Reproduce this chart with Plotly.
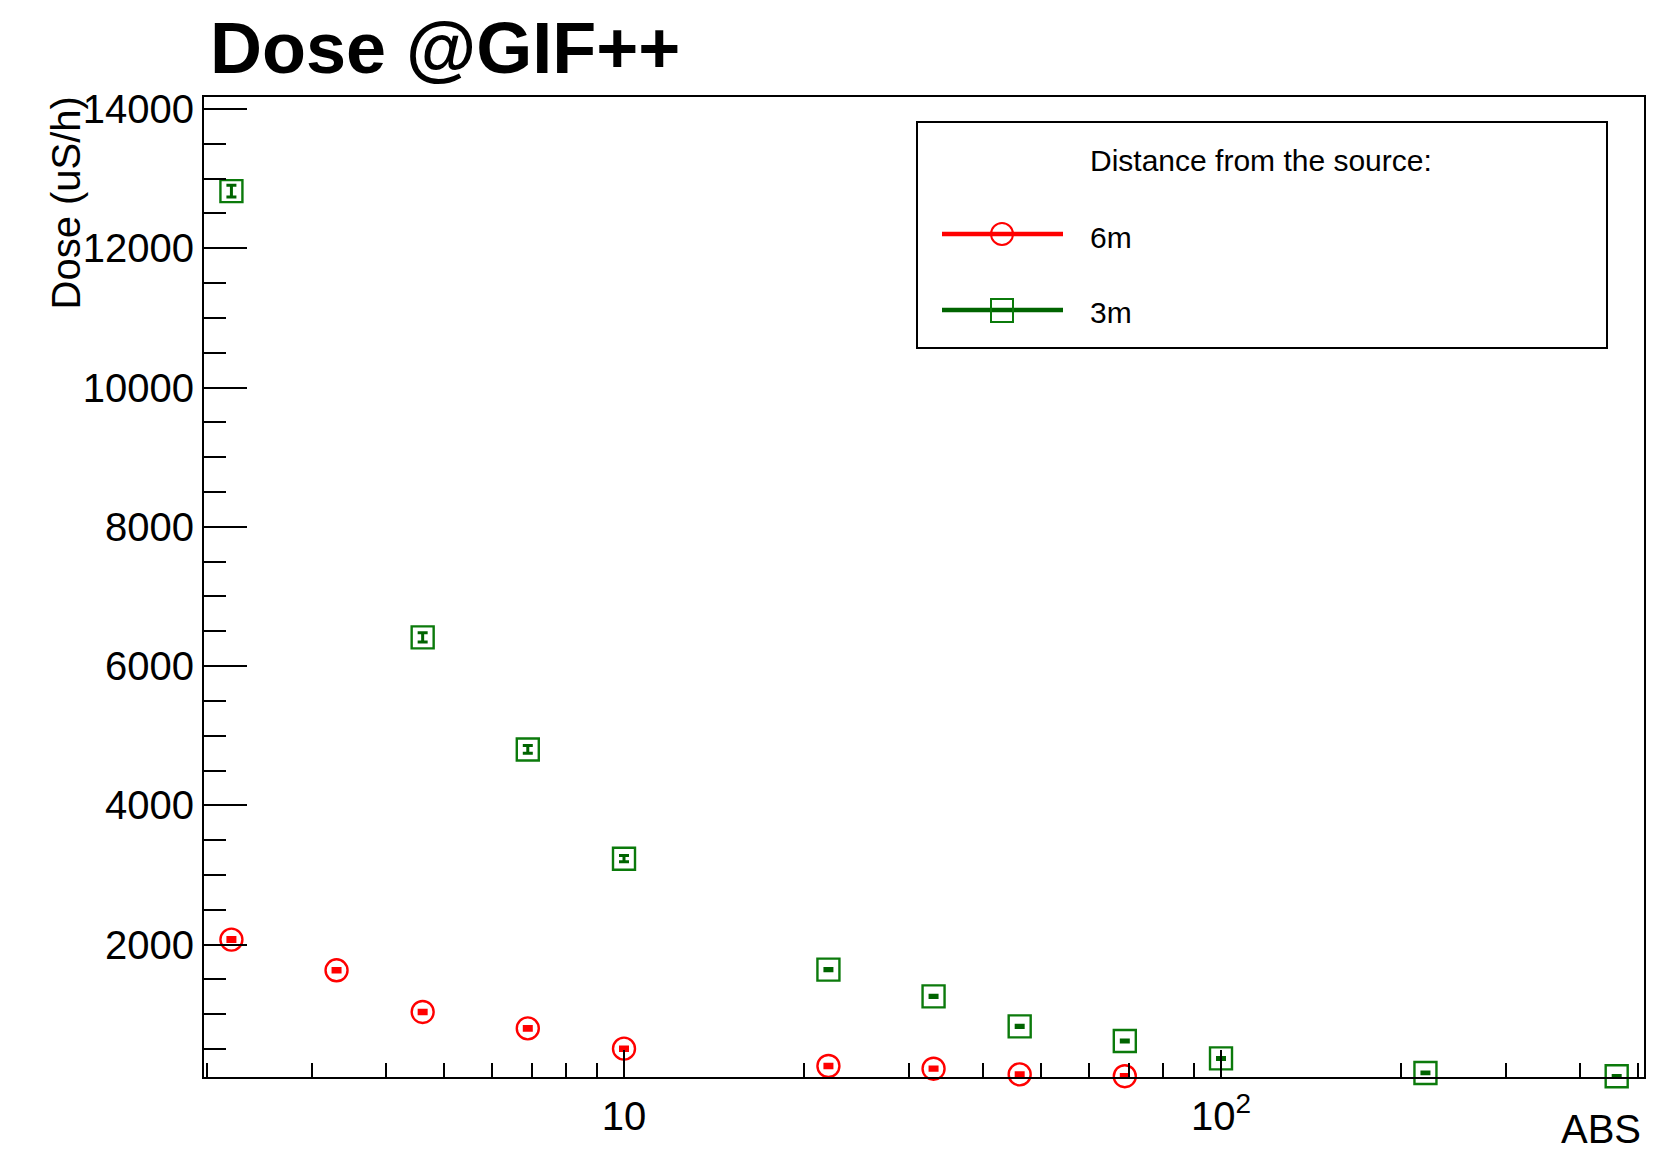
import plotly.graph_objects as go

# Attenuation factor (ABS) of the GIF++ source filters and measured dose rates
abs_6m = [2.2, 3.3, 4.6, 6.9, 10, 22, 33, 46, 69]
dose_6m = [2072, 1631, 1033, 797, 506, 257, 218, 136, 110]
err_6m = [25, 22, 22, 22, 22, 20, 20, 20, 20]

abs_3m = [2.2, 4.6, 6.9, 10, 22, 33, 46, 69, 100, 220, 460]
dose_3m = [12820, 6412, 4803, 3234, 1641, 1257, 826, 616, 366, 157, 110]
err_3m = [85, 65, 55, 45, 16, 16, 15, 14, 14, 13, 12]

series_names = ["6m", "3m"]
legend_header = "Distance from the source:"
x_major_ticks = [10, 100]
x_major_text = ["10", "10<sup>2</sup>"]
x_minor_ticks = [2, 3, 4, 5, 6, 7, 8, 9, 20, 30, 40, 50, 60, 70, 80, 90, 200, 300, 400, 500]
y_major_ticks = [2000, 4000, 6000, 8000, 10000, 12000, 14000]
y_major_text = ["2000", "4000", "6000", "8000", "10000", "12000", "14000"]

W, H = 1665, 1151
L, R, T, B = 204, 1644, 97, 1077
FONT = "Liberation Sans, Arial, Helvetica, sans-serif"
RED = "#ff0000"
GREEN_MK = "#0b7a0b"
GREEN_LN = "#006400"


def px(xp):
    return (xp - L) / (R - L)


def py(yp):
    return (B - yp) / (B - T)


fig = go.Figure()

fig.add_trace(go.Scatter(
    x=abs_6m, y=dose_6m, mode="markers", name=series_names[0],
    marker=dict(symbol="circle-open", size=22, color=RED, line=dict(width=2.4, color=RED)),
    error_y=dict(type="data", array=err_6m, visible=True, color=RED, thickness=3.5, width=5),
    cliponaxis=False, showlegend=False,
))
fig.add_trace(go.Scatter(
    x=abs_3m, y=dose_3m, mode="markers", name=series_names[1],
    marker=dict(symbol="square-open", size=22, color=GREEN_MK, line=dict(width=2.4, color=GREEN_MK)),
    error_y=dict(type="data", array=err_3m, visible=True, color=GREEN_LN, thickness=3, width=5),
    cliponaxis=False, showlegend=False,
))

# Legend box drawn by hand
shapes = [
    dict(type="rect", xref="paper", yref="paper", x0=px(917), x1=px(1607), y0=py(348), y1=py(122),
         line=dict(color="black", width=2), fillcolor="white", layer="above"),
    dict(type="line", xref="paper", yref="paper", x0=px(942), x1=px(1063), y0=py(234), y1=py(234),
         line=dict(color=RED, width=4.5), layer="above"),
    dict(type="circle", xref="paper", yref="paper", x0=px(991), x1=px(1013), y0=py(245), y1=py(223),
         line=dict(color=RED, width=2), layer="above"),
    dict(type="line", xref="paper", yref="paper", x0=px(942), x1=px(1063), y0=py(310), y1=py(310),
         line=dict(color=GREEN_LN, width=4.5), layer="above"),
    dict(type="rect", xref="paper", yref="paper", x0=px(991), x1=px(1013), y0=py(322), y1=py(299),
         line=dict(color=GREEN_MK, width=2), layer="above"),
]

annotations = [
    dict(text="<b>Dose @GIF++</b>", xref="paper", yref="paper", x=px(208), y=py(48),
         xanchor="left", yanchor="middle", showarrow=False,
         font=dict(family=FONT, size=72, color="black")),
    dict(text="Dose (uS/h)", xref="paper", yref="paper", x=px(66), y=py(95),
         xanchor="center", yanchor="top", textangle=-90, showarrow=False,
         font=dict(family=FONT, size=40, color="black")),
    dict(text="ABS", xref="paper", yref="paper", x=px(1643), y=py(1129),
         xanchor="right", yanchor="middle", showarrow=False,
         font=dict(family=FONT, size=40, color="black")),
    dict(text=legend_header, xref="paper", yref="paper", x=px(1088), y=py(160),
         xanchor="left", yanchor="middle", showarrow=False,
         font=dict(family=FONT, size=30, color="black")),
    dict(text=series_names[0], xref="paper", yref="paper", x=px(1088), y=py(237),
         xanchor="left", yanchor="middle", showarrow=False,
         font=dict(family=FONT, size=30, color="black")),
    dict(text=series_names[1], xref="paper", yref="paper", x=px(1088), y=py(312),
         xanchor="left", yanchor="middle", showarrow=False,
         font=dict(family=FONT, size=30, color="black")),
]

fig.update_layout(
    width=W, height=H,
    margin=dict(l=L, r=W - R, t=T, b=H - B, pad=0),
    paper_bgcolor="white", plot_bgcolor="white",
    font=dict(family=FONT, size=40, color="black"),
    shapes=shapes, annotations=annotations,
    showlegend=False,
)

fig.update_xaxes(
    type="log", range=[0.2965, 2.7085], automargin=False,
    showline=True, linecolor="black", linewidth=2, mirror=True,
    showgrid=False, zeroline=False,
    ticks="inside", ticklen=27, tickwidth=2, tickcolor="black",
    tickmode="array", tickvals=x_major_ticks, ticktext=x_major_text,
    tickfont=dict(family=FONT, size=40, color="black"),
    ticklabelstandoff=3,
    minor=dict(ticks="inside", ticklen=14, tickwidth=2, tickcolor="black",
               tickmode="array", tickvals=x_minor_ticks, showgrid=False),
)
fig.update_yaxes(
    range=[99, 14172], automargin=False,
    showline=True, linecolor="black", linewidth=2, mirror=True,
    showgrid=False, zeroline=False,
    ticks="inside", ticklen=43, tickwidth=2, tickcolor="black",
    tickmode="array", tickvals=y_major_ticks, ticktext=y_major_text,
    tickfont=dict(family=FONT, size=40, color="black"),
    ticklabelstandoff=0,
    minor=dict(ticks="inside", ticklen=22, tickwidth=2, tickcolor="black",
               tick0=0, dtick=500, showgrid=False),
)

fig.write_html("out.html")
